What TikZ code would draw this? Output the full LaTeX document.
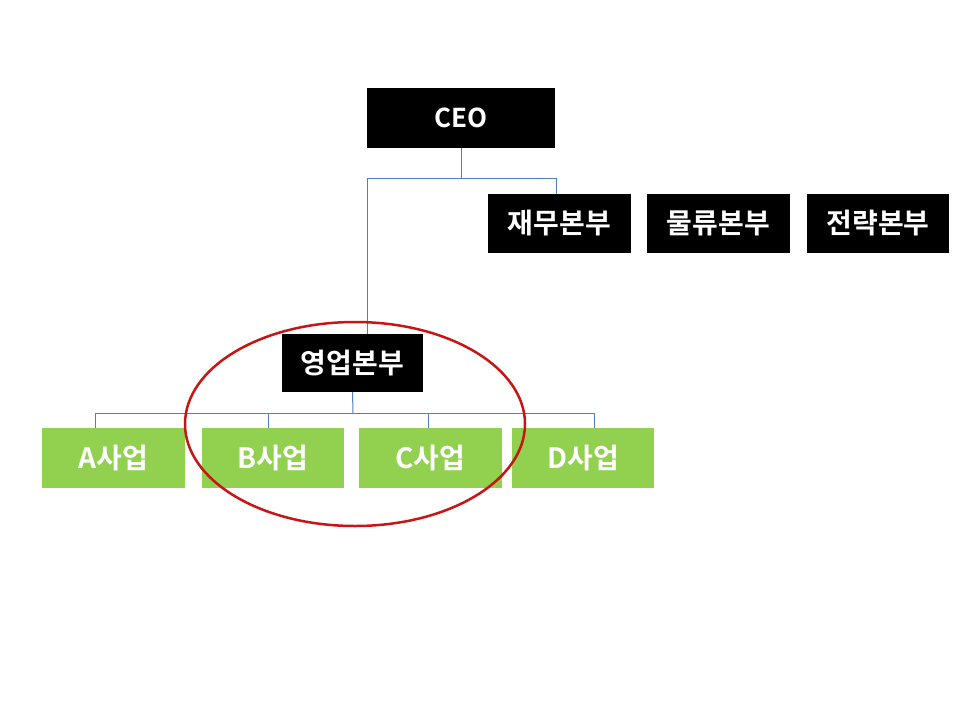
\documentclass[tikz,border=0pt]{standalone}
\usepackage{fontspec}
\usetikzlibrary{shapes.geometric}
\newfontfamily\kr{Noto Sans CJK KR Bold}
\definecolor{connblue}{RGB}{79,129,189}
\definecolor{boxgreen}{RGB}{146,208,80}
\definecolor{ringred}{RGB}{200,20,20}
\begin{document}
\begin{tikzpicture}[x=1pt,y=-1pt,
  blackbox/.style={fill=black,text=white,inner sep=0pt,font=\kr\fontsize{28}{32}\selectfont},
  greenbox/.style={fill=boxgreen,text=white,inner sep=0pt,font=\kr\fontsize{28}{32}\selectfont},
  conn/.style={draw=connblue,line width=1pt}]
\useasboundingbox[fill=white] (0,0) rectangle (960,720);
% boxes
\node[blackbox,minimum width=188pt,minimum height=60pt,font=\kr\fontsize{26}{30}\selectfont] (ceo) at (461,118) {CEO};
\node[blackbox,minimum width=143pt,minimum height=59pt] (fin) at (559.5,223.5) {재무본부};
\node[blackbox,minimum width=143pt,minimum height=59pt] (log) at (718.5,223.5) {물류본부};
\node[blackbox,minimum width=142pt,minimum height=59pt] (str) at (878,223.5) {전략본부};
\node[blackbox,minimum width=141pt,minimum height=58pt] (sales) at (352.5,363) {영업본부};
\node[greenbox,minimum width=143pt,minimum height=60pt] (a) at (113.5,458) {A사업};
\node[greenbox,minimum width=142pt,minimum height=60pt] (b) at (273,458) {B사업};
\node[greenbox,minimum width=143pt,minimum height=60pt] (c) at (430.5,458) {C사업};
\node[greenbox,minimum width=142pt,minimum height=60pt] (d) at (583,458) {D사업};
% connectors
\coordinate (j1) at (461,178);
\coordinate (j2) at (353,413);
\draw[conn] (ceo.south) -- (j1);
\draw[conn] (j1) -- (367,178) -- (367,0 |- sales.north);
\draw[conn] (j1) -- (556,178) -- (556,0 |- fin.north);
\draw[conn] (sales.south) -- (j2);
\draw[conn] (j2) -- (95,413) -- (95,0 |- a.north);
\draw[conn] (j2) -- (594,413) -- (594,0 |- d.north);
\draw[conn] (268,413) -- (268,0 |- b.north);
\draw[conn] (428,413) -- (428,0 |- c.north);
% ring
\node[draw=ringred,line width=2.5pt,ellipse,minimum width=340pt,minimum height=204pt,inner sep=0pt] (ring) at (355,424) {};
\end{tikzpicture}
\end{document}
